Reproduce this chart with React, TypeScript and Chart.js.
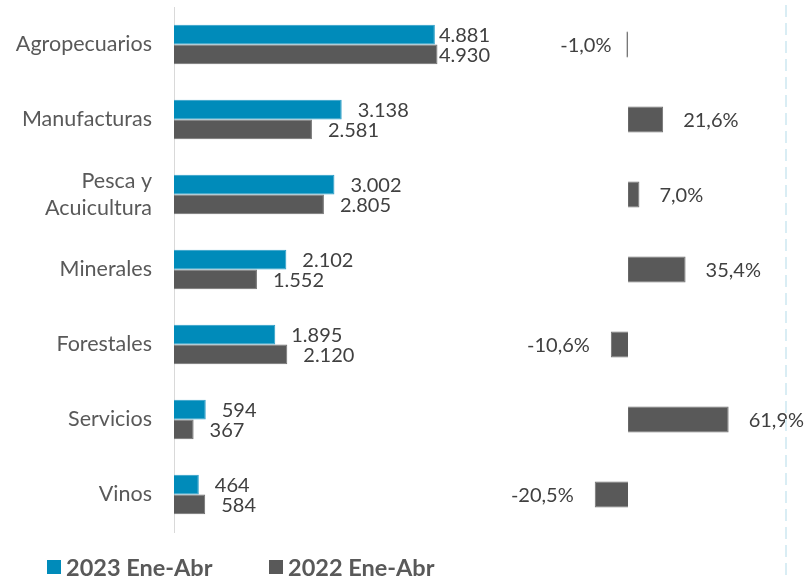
import React, { useEffect, useRef } from "react";
import { Chart, registerables } from "chart.js";

Chart.register(...registerables);

const categories: (string | string[])[] = [
  "Agropecuarios",
  "Manufacturas",
  ["Pesca y", "Acuicultura"],
  "Minerales",
  "Forestales",
  "Servicios",
  "Vinos",
];
const seriesLabels = ["2023 Ene-Abr", "2022 Ene-Abr"];
const values2023 = [4881, 3138, 3002, 2102, 1895, 594, 464];
const values2022 = [4930, 2581, 2805, 1552, 2120, 367, 584];
const variationPct = [-1.0, 21.6, 7.0, 35.4, -10.6, 61.9, -20.5];

const BLUE = "#008BBA";
const GRAY = "#595959";
const FONT = "Lato, 'Open Sans', sans-serif";

const fmtThousands = (v: number) =>
  String(Math.round(v)).replace(/\B(?=(\d{3})+(?!\d))/g, ".");
const fmtPct = (v: number) => v.toFixed(1).replace(".", ",") + "%";

const leftLabelsPlugin = {
  id: "leftLabels",
  afterDatasetsDraw(chart: any) {
    const ctx = chart.ctx;
    ctx.save();
    ctx.font = `20px ${FONT}`;
    ctx.fillStyle = "#404040";
    ctx.textBaseline = "middle";
    ctx.textAlign = "left";
    const limit = chart.chartArea.right - 10;
    chart.data.datasets.forEach((ds: any, di: number) => {
      const meta = chart.getDatasetMeta(di);
      meta.data.forEach((bar: any, i: number) => {
        const txt = fmtThousands(ds.data[i]);
        const w = ctx.measureText(txt).width;
        const x = Math.min(bar.x + 16, limit - w);
        ctx.fillText(txt, x, bar.y + 1);
      });
    });
    ctx.restore();
  },
  afterDraw(chart: any) {
    const ctx = chart.ctx;
    ctx.save();
    ctx.font = `bold 23.5px ${FONT}`;
    ctx.textBaseline = "middle";
    ctx.textAlign = "left";
    const y = 567;
    let x = 47;
    chart.data.datasets.forEach((ds: any) => {
      ctx.fillStyle = ds.backgroundColor;
      ctx.fillRect(x, y - 7, 14, 14);
      ctx.fillStyle = "#595959";
      ctx.fillText(ds.label, x + 19, y + 1);
      x += 222;
    });
    ctx.restore();
  },
};

const rightLabelsPlugin = {
  id: "rightLabels",
  afterDatasetsDraw(chart: any) {
    const ctx = chart.ctx;
    ctx.save();
    ctx.font = `20px ${FONT}`;
    ctx.fillStyle = "#404040";
    ctx.textBaseline = "middle";
    const ds = chart.data.datasets[0];
    const meta = chart.getDatasetMeta(0);
    meta.data.forEach((bar: any, i: number) => {
      const v = ds.data[i];
      const txt = fmtPct(v);
      if (v >= 0) {
        ctx.textAlign = "left";
        ctx.fillText(txt, bar.x + 20, bar.y + 1);
      } else {
        ctx.textAlign = "right";
        ctx.fillText(txt, bar.x - (Math.abs(v) < 5 ? 15 : 21), bar.y + 1);
      }
    });
    ctx.restore();
  },
  afterDraw(chart: any) {
    const ctx = chart.ctx;
    ctx.save();
    ctx.strokeStyle = "#D9EDF4";
    ctx.lineWidth = 2;
    ctx.setLineDash([12, 6]);
    const x = chart.chartArea.right;
    ctx.beginPath();
    ctx.moveTo(x, 5);
    ctx.lineTo(x, chart.height);
    ctx.stroke();
    ctx.restore();
  },
};

export default function App() {
  const leftRef = useRef<HTMLCanvasElement>(null);
  const rightRef = useRef<HTMLCanvasElement>(null);

  useEffect(() => {
    const left = new Chart(leftRef.current!, {
      type: "bar",
      data: {
        labels: categories,
        datasets: [
          {
            label: seriesLabels[0],
            data: values2023,
            backgroundColor: BLUE,
            borderColor: "#2A9CC6",
            borderWidth: 1,
            categoryPercentage: 0.524,
            barPercentage: 1,
          },
          {
            label: seriesLabels[1],
            data: values2022,
            backgroundColor: GRAY,
            borderColor: "#707070",
            borderWidth: 1,
            categoryPercentage: 0.524,
            barPercentage: 1,
          },
        ],
      },
      options: {
        indexAxis: "y",
        responsive: false,
        animation: false,
        layout: { padding: { top: 7, bottom: 45, left: 0, right: 0 } },
        plugins: { legend: { display: false }, tooltip: { enabled: false } },
        scales: {
          x: { display: false, min: 0, max: 6100 },
          y: {
            grid: { display: false },
            border: { display: true, color: "#D9D9D9", width: 1 },
            ticks: {
              color: "#595959",
              font: { family: FONT, size: 21.5, lineHeight: 1.22 },
              padding: 14,
            },
            afterFit: (s: any) => {
              s.width = 174;
              s.paddingTop = 0;
              s.paddingBottom = 0;
            },
          },
        },
      } as any,
      plugins: [leftLabelsPlugin],
    });

    const right = new Chart(rightRef.current!, {
      type: "bar",
      data: {
        labels: categories,
        datasets: [
          {
            label: "Variación",
            data: variationPct,
            backgroundColor: GRAY,
            borderColor: "#707070",
            borderWidth: 1,
            categoryPercentage: 0.347,
            barPercentage: 1,
          },
        ],
      },
      options: {
        indexAxis: "y",
        responsive: false,
        animation: false,
        layout: { padding: { top: 7, bottom: 45, left: 0, right: 25 } },
        plugins: { legend: { display: false }, tooltip: { enabled: false } },
        scales: {
          x: { display: false, min: -78.8, max: 97.2 },
          y: { display: false },
        },
      } as any,
      plugins: [rightLabelsPlugin],
    });

    return () => {
      left.destroy();
      right.destroy();
    };
  }, []);

  return (
    <div
      style={{
        position: "fixed",
        left: 0,
        top: 0,
        width: 811,
        height: 577,
        background: "#ffffff",
        overflow: "hidden",
      }}
    >
      <canvas
        ref={leftRef}
        width={500}
        height={577}
        style={{ position: "absolute", left: 0, top: 0, width: 500, height: 577 }}
      />
      <canvas
        ref={rightRef}
        width={311}
        height={577}
        style={{ position: "absolute", left: 500, top: 0, width: 311, height: 577 }}
      />
    </div>
  );
}
